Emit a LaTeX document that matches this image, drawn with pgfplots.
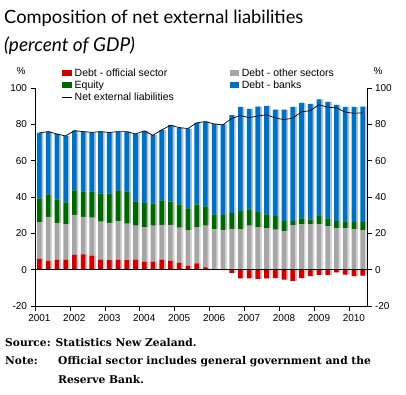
\documentclass[border=0pt]{standalone}
\usepackage{fontspec}
\usepackage{pgfplots}
\usepackage{pgfplotstable}
\pgfplotsset{compat=1.18}
\setsansfont{Liberation Sans}
\newfontfamily\titlefont{Lato}
\newfontfamily\notefont{DejaVu Serif}
\definecolor{cred}{RGB}{204,0,0}
\definecolor{cgrey}{RGB}{166,166,166}
\definecolor{cgreen}{RGB}{0,102,0}
\definecolor{cblue}{RGB}{0,112,192}
\definecolor{lred}{RGB}{232,170,170}
\definecolor{lgrey}{RGB}{215,215,215}
\definecolor{lgreen}{RGB}{150,190,150}
\definecolor{lblue}{RGB}{160,195,230}

\pgfplotstableread{
i red grey green blue neg net
0 6.0 20.2 13.0 36.1 0 75.3
1 4.9 24.2 12.3 34.6 0 76.0
2 5.5 20.1 13.0 36.1 0 74.7
3 5.5 19.6 11.9 36.6 0 73.6
4 8.1 22.1 13.4 32.9 0 76.5
5 8.4 20.7 13.9 33.0 0 76.0
6 7.7 20.9 14.4 32.6 0 75.6
7 5.5 20.9 15.5 34.1 0 76.0
8 5.3 20.5 16.1 33.6 0 75.5
9 5.5 21.2 16.9 32.4 0 76.0
10 5.3 20.0 17.6 33.1 0 76.0
11 5.5 18.7 13.3 37.2 0 74.7
12 4.4 19.0 13.2 39.8 0 76.4
13 4.4 19.8 12.1 37.7 0 74.0
14 5.5 19.2 13.4 38.8 0 76.9
15 4.8 19.9 12.8 42.0 0 79.5
16 3.7 19.4 12.8 42.3 0 78.2
17 2.2 19.4 12.1 44.0 0 77.7
18 3.4 19.9 12.5 45.0 0 80.8
19 1.3 22.9 10.6 46.7 0 81.5
20 0.2 22.0 8.2 49.8 0 80.2
21 0 21.6 8.4 50.0 -0.3 79.7
22 0 22.5 8.6 53.9 -1.8 83.2
23 0 22.2 10.0 57.4 -4.8 84.8
24 0 24.2 9.0 55.3 -4.8 83.7
25 0 23.3 8.4 58.0 -5.1 84.6
26 0 22.7 7.7 59.7 -4.8 85.3
27 0 22.0 7.5 58.6 -4.6 83.5
28 0 21.2 5.7 61.2 -5.5 82.6
29 0 24.4 2.5 62.7 -6.2 83.4
30 0 24.9 3.3 63.6 -4.6 86.9
31 0 24.9 2.6 63.7 -3.5 87.5
32 0 24.9 5.0 63.9 -2.9 90.8
33 0 23.8 4.4 64.1 -2.9 89.4
34 0 22.7 4.0 64.0 -1.5 89.1
35 0 22.7 3.9 63.0 -2.7 86.7
36 0 22.2 4.0 63.4 -3.5 86.1
37 0 21.8 4.4 63.5 -3.3 86.3
}\datatable

\pgfplotsset{
  common/.style={
    at={(35pt,88pt)}, anchor=south west,
    scale only axis, width=332pt, height=218pt,
    xmin=-0.5, xmax=37.5, ymin=-20, ymax=100,
    ytick={-20,0,20,40,60,80,100},
    tick align=outside, major tick length=4.5pt,
    tick style={black, line width=0.7pt},
    axis line style={black, line width=0.8pt},
    /pgf/number format/assume math mode=true,
    tick label style={font=\sffamily\fontsize{10}{11}\selectfont},
    clip=false,
  }
}

\begin{document}
\begin{tikzpicture}[x=1pt,y=1pt]
\useasboundingbox (0,0) rectangle (406,394);

\node[anchor=base west, inner sep=0, font=\titlefont\fontsize{18.3}{20}\selectfont] at (4,370.7) {Composition of net external liabilities};
\node[anchor=base west, inner sep=0, font=\titlefont\itshape\fontsize{19}{21}\selectfont] at (4,342.6) {(percent of GDP)};

\node[font=\sffamily\fontsize{10}{11}\selectfont, inner sep=0] at (21,323) {\%};
\node[font=\sffamily\fontsize{10}{11}\selectfont, inner sep=0] at (378,323) {\%};

% light right-hand shading of the bars
\begin{axis}[common,
  ybar stacked, bar width=4.6pt, bar shift=1.8pt,
  axis x line=none, axis y line=none,
]
\addplot[fill=lred, draw=none] table[x=i, y=red] {\datatable};
\addplot[fill=lgrey, draw=none] table[x=i, y=grey] {\datatable};
\addplot[fill=lgreen, draw=none] table[x=i, y=green] {\datatable};
\addplot[fill=lblue, draw=none] table[x=i, y=blue] {\datatable};
\end{axis}

\begin{axis}[common,
  ybar stacked, bar width=4.6pt,
  axis x line*=bottom, axis y line*=left,
  xtick={-0.5,3.5,...,35.5},
  xticklabels={2001,2002,2003,2004,2005,2006,2007,2008,2009,2010},
  xticklabel style={xshift=4.4pt},
  legend style={at={(0.081,1.1)}, anchor=north west, draw=none, fill=none,
    inner sep=0pt, legend columns=2, row sep=-1pt,
    font=\sffamily\fontsize{10.5}{11}\selectfont,
    /tikz/every odd column/.append style={column sep=0.5pt},
    /tikz/every even column/.append style={column sep=54pt}},
  legend cell align=left,
  legend image code/.code={\fill[#1] (0pt,-2.8pt) rectangle (9.4pt,2.9pt);},
]
\addplot[fill=cred, draw=none] table[x=i, y=red] {\datatable};
\addlegendentry{Debt - official sector}
\addplot[fill=cgrey, draw=none] table[x=i, y=grey] {\datatable};
\addlegendentry{Debt - other sectors}
\addplot[fill=cgreen, draw=none] table[x=i, y=green] {\datatable};
\addlegendentry{Equity}
\addplot[fill=cblue, draw=none] table[x=i, y=blue] {\datatable};
\addlegendentry{Debt - banks}
\addlegendimage{legend image code/.code={\draw[black, line width=0.7pt] (0pt,0pt) -- (9.4pt,0pt);}}
\addlegendentry{Net external liabilities}
\end{axis}

\begin{axis}[common,
  axis x line=none, axis y line*=right,
]
\addplot[ybar, bar width=4.6pt, bar shift=1.8pt, fill=lred, draw=none] table[x=i, y=neg] {\datatable};
\addplot[ybar, bar width=4.6pt, bar shift=0pt, fill=cred, draw=none] table[x=i, y=neg] {\datatable};
\addplot[black, line width=0.8pt] coordinates {(-0.5,0) (37.5,0)};
\addplot[black, line width=0.7pt, sharp plot, mark=none] table[x=i, y=net] {\datatable};
\end{axis}

\node[anchor=base west, inner sep=0, font=\notefont\bfseries\fontsize{10.7}{13}\selectfont] at (5,47.3) {Source: Statistics New Zealand.};
\node[anchor=base west, inner sep=0, font=\notefont\bfseries\fontsize{10.7}{13}\selectfont] at (5,29.7) {Note:};
\node[anchor=base west, inner sep=0, font=\notefont\bfseries\fontsize{10.7}{13}\selectfont] at (58,29.7) {Official sector includes general government and the};
\node[anchor=base west, inner sep=0, font=\notefont\bfseries\fontsize{10.7}{13}\selectfont] at (58,10.7) {Reserve Bank.};
\end{tikzpicture}
\end{document}
